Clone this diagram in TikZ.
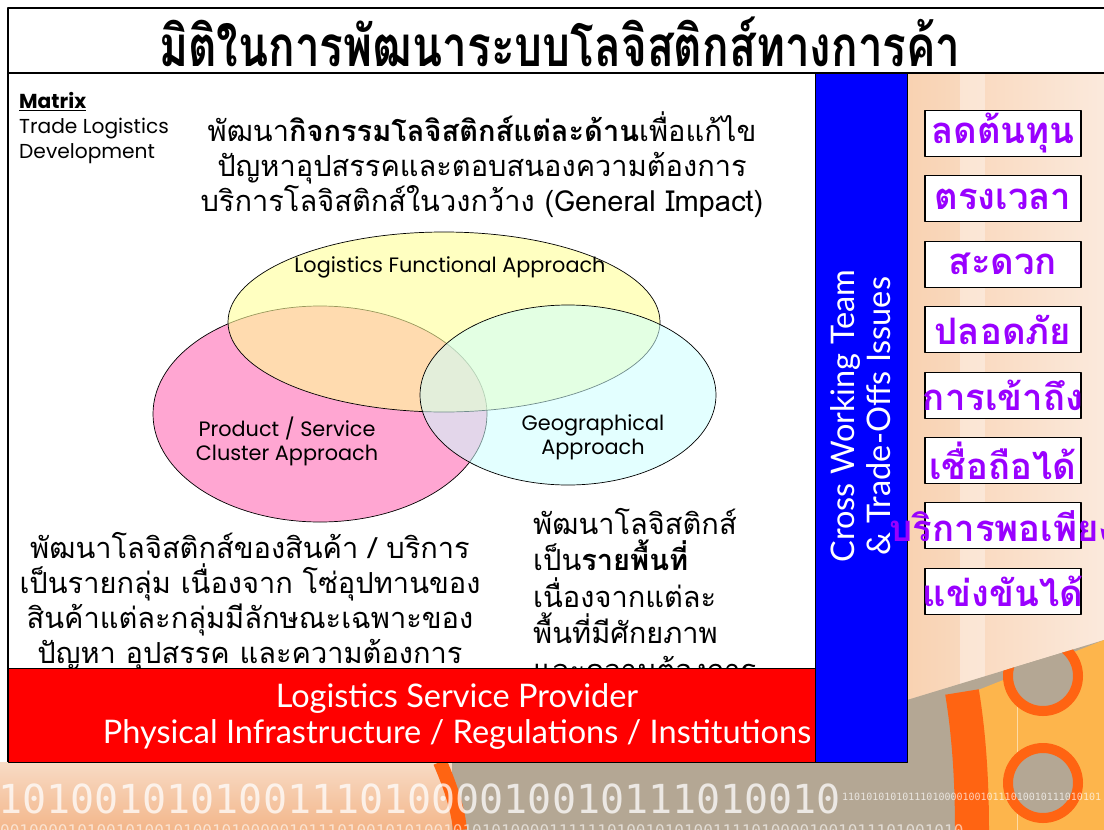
\documentclass[tikz,border=0pt]{standalone}
\usepackage{fontspec}
\usetikzlibrary{shapes.geometric}
\setmainfont[Script=Thai]{Loma}
\newfontfamily\headfont[Script=Thai,FakeStretch=0.78]{Loma}
\newfontfamily\gothicfont{Poppins}
\newfontfamily\barfont{Lato}
\newfontfamily\binfont{DejaVu Sans Mono}
\definecolor{goalpurple}{HTML}{9900FF}
\definecolor{vennyellow}{HTML}{FFFF99}
\definecolor{vennpink}{HTML}{FFA6D2}
\definecolor{venncyan}{HTML}{CCFFFF}
\definecolor{peach}{HTML}{F8DBC5}
\definecolor{peachdark}{HTML}{F3B68A}
\definecolor{rust}{HTML}{FF6412}
\definecolor{amber}{HTML}{FDB54C}
\definecolor{stone}{HTML}{B4A794}
\newcommand{\fsz}[2]{\fontsize{#1}{#2}\selectfont}

\begin{document}
\begin{tikzpicture}[x=1pt,y=-1pt,line join=round,
  venn/.style={ellipse,draw=black,line width=0.7pt,inner sep=0pt},
  goalbox/.style={draw=black,line width=1.1pt,fill=white,minimum width=156pt,minimum height=46pt,inner sep=0pt,text=goalpurple,font=\bfseries\fsz{36.5}{42}},
  thaitext/.style={font=\fsz{29}{35},inner sep=0pt},
  approach/.style={align=center,font=\gothicfont\fsz{20.8}{24}},
  bartext/.style={text=white,align=center,font=\barfont\fsz{32.5}{36},inner sep=0pt}]
\useasboundingbox (0,0) rectangle (1104,830);
\fill[white] (0,0) rectangle (1104,830);

% backdrop: right column and bottom strip
\shade[left color=peach!90!orange,right color=peach!60!white] (907,73) rectangle (1104,830);
\fill[white,opacity=.35] (960,73) rectangle (985,700);
\shade[top color=peach,bottom color=peachdark] (0,762) rectangle (460,830);
\fill[stone] (452,762) -- (907,762) -- (907,700) -- (1104,640) -- (1104,830) -- (452,830) -- cycle;
\draw[rust,line width=14] (440,762) .. controls (452,790) and (458,810) .. (460,830);
\fill[amber] (968,694) -- (1104,640) -- (1104,830) -- (978,830) -- cycle;
\draw[rust,line width=34] (962,692) .. controls (970,740) and (972,790) .. (972,830);
\draw[white,opacity=.5] (1017,690) -- (1017,830);
\begin{scope}
  \clip (907,700) -- (1104,640) -- (1104,830) -- (907,830) -- cycle;
  \draw[rust,line width=10,fill=stone] (1043,676) circle (35);
\end{scope}
\draw[rust,line width=10,fill=stone] (1043,783) circle (35);
\node[anchor=base west,inner sep=0,text=white,opacity=.75,font=\binfont\fsz{40}{40}] (bits) at (-2,813) {10100101010011101000010010111010010};
\node[anchor=base west,inner sep=0,text=white,opacity=.7,font=\binfont\fsz{10}{10}] (bitsr) at (842,800) {1101010101011101000010010111010010111010101};
\node[anchor=base west,inner sep=0,text=white,opacity=.6,font=\binfont\fsz{16}{16}] (bitsb) at (0,836) {0010000101001010010100101000001011101001010100101010100001111110100101010011110100001001011101001010};

% title frame
\draw[line width=1.5pt] (1104,8) -- (8,8) -- (8,762);
\draw[line width=1.5pt] (8,73) -- (1104,73);
\node (title) at (560,42) {\headfont\bfseries\fsz{56.5}{60}มิติในการพัฒนาระบบโลจิสติกส์ทางการค้า};

\node[anchor=north west,align=left,inner sep=0,font=\gothicfont\fsz{20.2}{25}] (matrix) at (19,92) {\textbf{\underline{Matrix}}\\Trade Logistics\\Development};
\node[thaitext,align=center] (general) at (482,165) {พัฒนา\textbf{กิจกรรมโลจิสติกส์แต่ละด้าน}เพื่อแก้ไข\\ปัญหาอุปสรรคและตอบสนองความต้องการ\\บริการโลจิสติกส์ในวงกว้าง (General Impact)};

% three approaches
\node[venn,fill=vennpink,minimum width=334pt,minimum height=216pt] (cluster) at (320,414) {};
\node[venn,fill=vennyellow,fill opacity=.6,minimum width=432pt,minimum height=180pt] (functional) at (444,322) {};
\node[venn,fill=venncyan,fill opacity=.55,minimum width=296pt,minimum height=180pt] (geo) at (568,395) {};
\node[approach] (functxt) at (450,267) {Logistics Functional Approach};
\node[approach] (clustertxt) at (287,441) {Product / Service\\Cluster Approach};
\node[approach] (geotxt) at (593,437) {Geographical\\Approach};

\node[thaitext,align=center] (clusternote) at (250,602) {พัฒนาโลจิสติกส์ของสินค้า / บริการ\\เป็นรายกลุ่ม เนื่องจาก โซ่อุปทานของ\\สินค้าแต่ละกลุ่มมีลักษณะเฉพาะของ\\ปัญหา อุปสรรค และความต้องการ};
\node[thaitext,align=left,anchor=north west,font=\fsz{29}{36.5}] (geonote) at (533,508) {พัฒนาโลจิสติกส์\\เป็น\textbf{รายพื้นที่}\\เนื่องจากแต่ละ\\พื้นที่มีศักยภาพ\\และความต้องการ};

% base layer and cross-cutting bar
\node[draw=black,line width=1pt,fill=red,minimum width=807pt,minimum height=94pt,anchor=north west,inner sep=0] (provider) at (8,668) {};
\node[bartext] (providertxt) at (457,716) {Logistics Service Provider\\Physical Infrastructure / Regulations / Institutions};
\node[draw=black,line width=1pt,fill=blue,minimum width=92pt,minimum height=689pt,anchor=north west,inner sep=0] (crossbar) at (815,73) {};
\node[bartext,rotate=90] (crosstxt) at (861,416) {Cross Working Team\\\& Trade-Offs Issues};

% goals
\foreach \word [count=\i] in {ลดต้นทุน,ตรงเวลา,สะดวก,ปลอดภัย,การเข้าถึง,เชื่อถือได้,บริการพอเพียง,แข่งขันได้}
  \node[goalbox] (goal\i) at (1003,{133.5+65.4*(\i-1)}) {\makebox[150pt]{\word}};
\end{tikzpicture}
\end{document}
